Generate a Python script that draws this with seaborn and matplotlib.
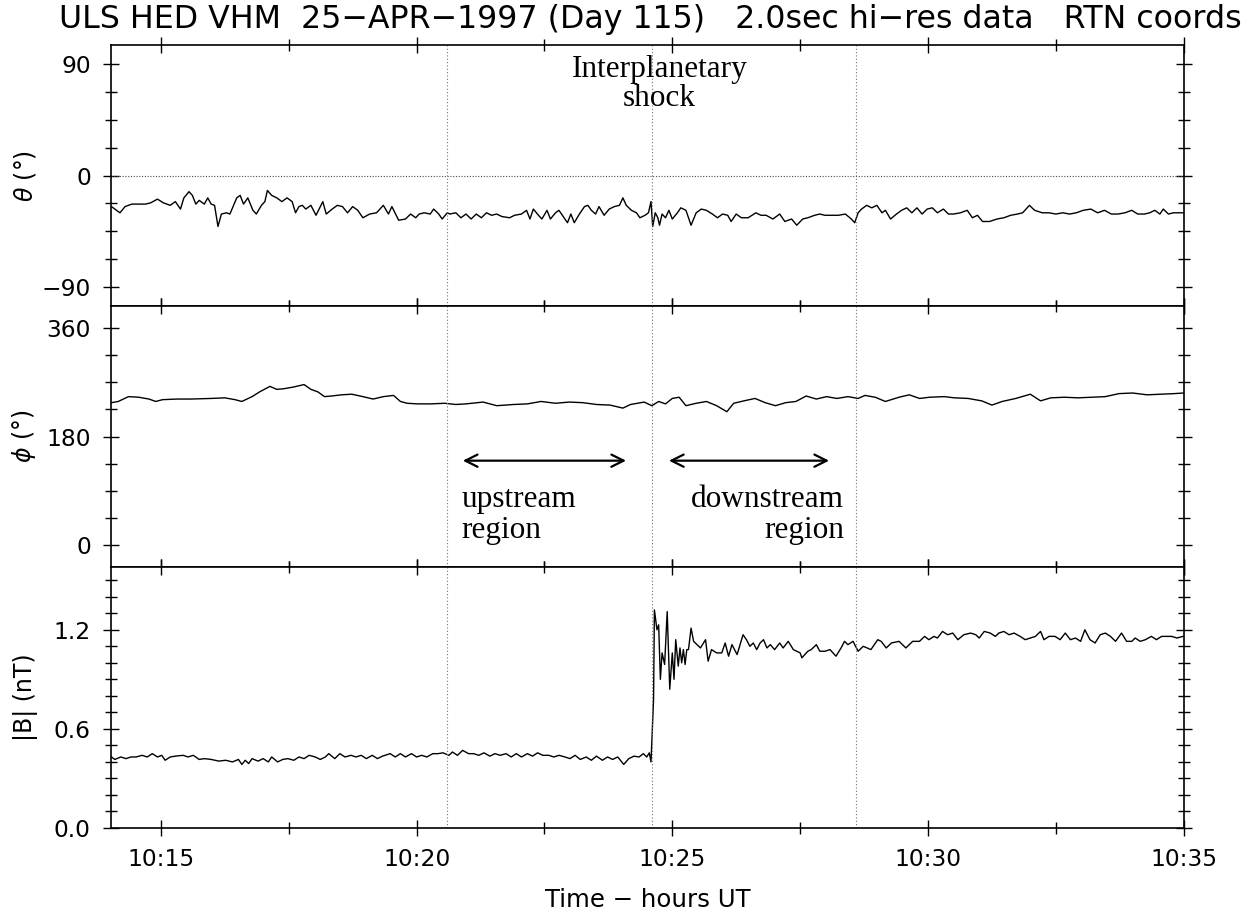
import matplotlib
matplotlib.use("Agg")
import matplotlib.pyplot as plt
from matplotlib.ticker import MultipleLocator, FixedLocator, FuncFormatter
import numpy as np
import seaborn as sns

# seconds after 10:14:00 UT
theta_t = [
    2, 6, 12, 18, 26, 34, 42, 48, 56, 63,
    71, 77, 83, 87, 93, 97, 101, 105, 111, 115,
    119, 123, 127, 131, 137, 141, 149, 153, 157, 162,
    168, 172, 178, 182, 185, 190, 196, 202, 208, 214,
    218, 222, 226, 230, 236, 242, 250, 254, 261, 267,
    273, 279, 285, 291, 297, 305, 313, 321, 327, 331,
    339, 347, 353, 359, 363, 369, 376, 380, 386, 390,
    396, 399, 406, 412, 418, 424, 430, 436, 442, 448,
    454, 460, 469, 475, 483, 489, 493, 497, 503, 507,
    513, 517, 523, 527, 533, 537, 541, 545, 551, 557,
    561, 565, 570, 574, 580, 586, 592, 598, 602, 606,
    612, 618, 622, 628,
    632, 635, 637, 640, 643, 645, 648, 652, 656, 660,
    666, 670, 676, 682, 688, 694, 700, 707, 713, 719,
    725, 729, 735, 741, 749, 758, 764, 770, 778, 786,
    792, 800, 806, 813, 819, 827, 833, 839, 847, 855,
    863, 870, 874, 878, 882, 888, 894, 900, 906, 910,
    916, 923, 929, 935, 941, 947, 953, 959, 965, 971,
    978, 984, 990, 998, 1006, 1012, 1018, 1024, 1032, 1041,
    1049, 1057, 1065, 1071, 1079, 1085, 1094, 1102, 1110, 1118,
    1126, 1134, 1142, 1151, 1159, 1167, 1175, 1183, 1191, 1199,
    1206, 1214, 1220, 1226, 1232, 1236, 1242, 1248, 1254, 1260,
]
theta_v = [
    -25, -27, -30, -25, -23, -23, -23, -22, -19, -22,
    -24, -21, -27, -18, -13, -16, -23, -20, -23, -18,
    -23, -24, -41, -31, -30, -31, -18, -16, -23, -18,
    -28, -31, -24, -21, -12, -16, -18, -21, -18, -21,
    -30, -25, -24, -27, -24, -32, -21, -31, -27, -24,
    -25, -30, -25, -28, -34, -31, -30, -24, -31, -25,
    -36, -35, -31, -34, -31, -30, -31, -27, -31, -35,
    -30, -31, -30, -34, -31, -35, -31, -34, -30, -32,
    -31, -33, -34, -32, -31, -28, -35, -27, -32, -35,
    -28, -35, -30, -28, -34, -38, -31, -38, -31, -25,
    -24, -28, -31, -25, -32, -27, -25, -24, -18, -24,
    -28, -30, -34, -32,
    -30, -21, -41, -30, -34, -40, -31, -34, -28, -35,
    -30, -26, -28, -40, -30, -27, -28, -31, -34, -31,
    -32, -37, -31, -34, -34, -30, -32, -32, -35, -31,
    -37, -35, -40, -35, -34, -32, -31, -32, -32, -32,
    -31, -35, -38, -30, -27, -24, -26, -24, -30, -28,
    -35, -31, -28, -26, -30, -26, -31, -27, -26, -30,
    -27, -31, -31, -30, -28, -34, -32, -37, -37, -35,
    -34, -32, -31, -30, -24, -28, -30, -30, -31, -30,
    -31, -30, -28, -27, -30, -28, -31, -31, -30, -28,
    -31, -31, -30, -28, -31, -27, -31, -30, -30, -30,
]

phi_t = [
    2, 10, 22, 34, 46, 54, 62, 79, 95, 119,
    135, 147, 155, 167, 176, 188, 196, 204, 216, 228,
    236, 244, 252, 260, 272, 284, 297, 309, 321, 333,
    341, 349, 361, 377, 393, 406, 418, 438, 454, 474,
    490, 506, 523, 539, 555, 571, 587, 602, 611, 627,
    636, 644, 652, 660, 668, 676, 688, 700, 712, 724,
    732, 744, 757, 769, 781, 793, 805, 817, 829, 841,
    853, 866, 878, 886, 898, 910, 926, 938, 950, 962,
    979, 991, 1007, 1023, 1035, 1047, 1063, 1080, 1092, 1104,
    1120, 1136, 1152, 1168, 1184, 1200, 1217, 1233, 1249, 1260,
]
phi_v = [
    236, 238, 246, 245, 242, 238, 241, 242, 242, 243,
    244, 241, 238, 246, 254, 263, 258, 259, 262, 266,
    258, 254, 246, 247, 249, 250, 246, 242, 246, 248,
    238, 235, 234, 234, 235, 233, 234, 237, 231, 233,
    234, 238, 235, 237, 236, 233, 232, 227, 233, 237,
    231, 238, 234, 243, 245, 231, 235, 238, 231, 221,
    235, 239, 243, 236, 231, 236, 238, 247, 242, 246,
    243, 246, 243, 248, 245, 238, 245, 249, 243, 245,
    246, 244, 243, 239, 232, 238, 243, 250, 239, 244,
    245, 244, 245, 246, 251, 252, 249, 250, 251, 252,
]

bmag_t = [
    2, 6, 13, 19, 25, 31, 38, 44, 50, 56,
    61, 65, 71, 77, 86, 92, 98, 105, 111, 119,
    128, 136, 144, 151, 155, 159, 163, 167, 174, 180,
    186, 190, 197, 203, 209, 216, 222, 228, 234, 241,
    247, 253, 257, 264, 270, 276, 283, 289, 295, 301,
    308, 314, 320, 329, 335, 341, 347, 354, 360, 366,
    372, 379, 385, 391, 398, 402, 408, 414, 421, 427,
    433, 439, 446, 452, 458, 465, 471, 477, 483, 490,
    496, 502, 508, 515, 521, 527, 534, 540, 546, 552,
    559, 565, 571, 578, 584, 590, 596, 603, 609, 615,
    621, 626, 630, 633, 635,
    638, 639, 642, 644, 646, 648, 651, 654, 657, 660,
    662, 664, 667, 669, 671, 673, 675, 677, 679, 682,
    685, 689, 693, 699, 702, 706, 712, 718, 722, 726,
    730, 736, 743, 747, 751, 755, 759, 763, 767, 771,
    775, 780, 786, 790, 796, 802, 810, 812, 819, 823,
    829, 833, 839, 845, 852, 858, 862, 866, 872, 878,
    884, 893, 901, 905, 911, 917, 926, 934, 942, 950,
    956, 961, 967, 971, 977, 983, 989, 995, 1002, 1010,
    1016, 1020, 1026, 1033, 1039, 1043, 1049, 1055, 1061, 1068,
    1074, 1080, 1086, 1092, 1096, 1102, 1109, 1115, 1121, 1127,
    1133, 1139, 1144, 1150, 1156, 1162, 1168, 1174, 1180, 1187,
    1193, 1199, 1203, 1209, 1215, 1222, 1228, 1234, 1240, 1246,
    1252, 1259,
]
bmag_v = [
    0.43, 0.415, 0.43, 0.42, 0.43, 0.43, 0.44, 0.43, 0.45, 0.43,
    0.44, 0.41, 0.43, 0.435, 0.44, 0.43, 0.44, 0.415, 0.42, 0.415,
    0.405, 0.41, 0.40, 0.415, 0.385, 0.41, 0.39, 0.42, 0.405, 0.42,
    0.40, 0.43, 0.40, 0.415, 0.42, 0.41, 0.43, 0.42, 0.44, 0.43,
    0.415, 0.43, 0.45, 0.42, 0.45, 0.43, 0.44, 0.43, 0.44, 0.42,
    0.44, 0.42, 0.435, 0.45, 0.43, 0.45, 0.43, 0.45, 0.43, 0.44,
    0.43, 0.45, 0.45, 0.455, 0.44, 0.46, 0.44, 0.47, 0.45, 0.45,
    0.44, 0.455, 0.435, 0.45, 0.44, 0.45, 0.43, 0.45, 0.43, 0.45,
    0.435, 0.455, 0.44, 0.44, 0.43, 0.44, 0.43, 0.42, 0.44, 0.415,
    0.43, 0.41, 0.435, 0.41, 0.43, 0.415, 0.43, 0.385, 0.42, 0.435,
    0.43, 0.45, 0.43, 0.455, 0.40,
    0.78, 1.32, 1.20, 1.23, 0.90, 1.06, 0.99, 1.31, 0.84, 1.06,
    0.90, 1.14, 0.98, 1.09, 1.00, 1.08, 0.99, 1.08, 1.08, 1.21,
    1.13, 1.11, 1.09, 1.14, 1.01, 1.08, 1.06, 1.06, 1.12, 1.04,
    1.11, 1.05, 1.17, 1.14, 1.10, 1.12, 1.08, 1.12, 1.14, 1.09,
    1.11, 1.08, 1.12, 1.09, 1.13, 1.08, 1.06, 1.03, 1.07, 1.08,
    1.11, 1.07, 1.07, 1.08, 1.04, 1.09, 1.13, 1.11, 1.13, 1.07,
    1.10, 1.08, 1.14, 1.13, 1.09, 1.12, 1.13, 1.09, 1.13, 1.13,
    1.16, 1.14, 1.16, 1.15, 1.19, 1.17, 1.18, 1.14, 1.17, 1.18,
    1.17, 1.15, 1.19, 1.18, 1.16, 1.18, 1.19, 1.17, 1.18, 1.16,
    1.14, 1.15, 1.16, 1.19, 1.14, 1.16, 1.16, 1.14, 1.18, 1.14,
    1.15, 1.13, 1.20, 1.14, 1.12, 1.17, 1.18, 1.16, 1.13, 1.18,
    1.13, 1.13, 1.15, 1.13, 1.14, 1.16, 1.14, 1.16, 1.16, 1.16,
    1.15, 1.16,
]

# analysis windows (seconds after 10:14:00)
marker_t = [396, 636, 876]

sns.set_style("ticks")
plt.rcParams['font.family'] = ['DejaVu Sans']
plt.rcParams['mathtext.fontset'] = 'dejavusans'
for key in ['text.color', 'axes.labelcolor', 'xtick.color', 'ytick.color', 'axes.edgecolor']:
    plt.rcParams[key] = 'black'

fig, axes = plt.subplots(3, 1, figsize=(12.5, 9.13), dpi=100, sharex=True)
fig.subplots_adjust(left=0.0888, right=0.947, top=0.9507, bottom=0.0931, hspace=0)

panels = [
    (theta_t, theta_v, r'$\theta$ (°)', (-105, 105), [-90, 0, 90], 22.5),
    (phi_t, phi_v, r'$\phi$ (°)', (-36, 396), [0, 180, 360], 45),
    (bmag_t, bmag_v, '|B| (nT)', (0, 1.58), [0.0, 0.6, 1.2], 0.1),
]

for ax, (t, v, lab, ylim, majors, minor) in zip(axes, panels):
    sns.lineplot(x=np.array(t) / 60.0, y=v, ax=ax, color='black', lw=1.0,
                 estimator=None, sort=False)
    ax.set_ylim(*ylim)
    ax.yaxis.set_major_locator(FixedLocator(majors))
    ax.yaxis.set_minor_locator(MultipleLocator(minor))
    ax.set_ylabel(lab, fontsize=17)
    ax.yaxis.set_label_coords(-0.068, 0.5)
    for m in marker_t:
        ax.axvline(m / 60.0, color='0.45', ls=(0, (1, 2)), lw=0.8)
    ax.tick_params(which='both', direction='inout', top=True, right=True,
                   labelsize=16.8, width=1.0)
    ax.tick_params(axis='y', which='major', length=11, pad=9)
    ax.tick_params(axis='y', which='minor', length=9)
    ax.tick_params(axis='x', which='major', length=11, pad=9)
    ax.tick_params(axis='x', which='minor', length=8)
    for s in ax.spines.values():
        s.set_linewidth(1.2)

axes[1].yaxis.set_major_formatter(FuncFormatter(lambda v, p: f"{v:.0f}"))
axes[2].yaxis.set_major_formatter(FuncFormatter(lambda v, p: f"{v:.1f}"))
axes[0].yaxis.set_major_formatter(FuncFormatter(lambda v, p: f"{v:.0f}".replace('-', '\u2212')))
axes[0].axhline(0, color='0.3', ls=(0, (1, 1.5)), lw=0.8)

ax = axes[2]
ax.set_xlim(0.025, 21.0)
ax.xaxis.set_major_locator(FixedLocator([1, 6, 11, 16, 21]))
ax.xaxis.set_minor_locator(FixedLocator([3.5, 8.5, 13.5, 18.5]))
ax.xaxis.set_major_formatter(FuncFormatter(lambda m, p: f"10:{14 + int(round(m)):02d}"))
ax.set_xlabel('Time \u2212 hours UT', fontsize=17.6, labelpad=12)

serif = ['Liberation Serif', 'DejaVu Serif']
axes[0].text(10.75, 74, 'Interplanetary\nshock', ha='center', va='center',
             fontsize=22.5, family=serif, linespacing=1.0)
arrow = dict(arrowstyle='<->', color='black', lw=1.6, mutation_scale=22)
axes[1].annotate('', xy=(6.85, 140), xytext=(10.15, 140), arrowprops=arrow)
axes[1].annotate('', xy=(10.88, 140), xytext=(14.12, 140), arrowprops=arrow)
axes[1].text(6.88, 50, 'upstream\nregion', ha='left', va='center',
             fontsize=22.5, family=serif, linespacing=1.05)
axes[1].text(14.36, 50, 'downstream\nregion', ha='right', va='center',
             fontsize=22.5, family=serif, linespacing=1.05, multialignment='right')

fig.text(0.52, 0.979,
         'ULS HED VHM  25\u2212APR\u22121997 (Day 115)   2.0sec hi\u2212res data   RTN coords',
         ha='center', va='center', fontsize=22.75)

fig.savefig('out.png', dpi=100)
